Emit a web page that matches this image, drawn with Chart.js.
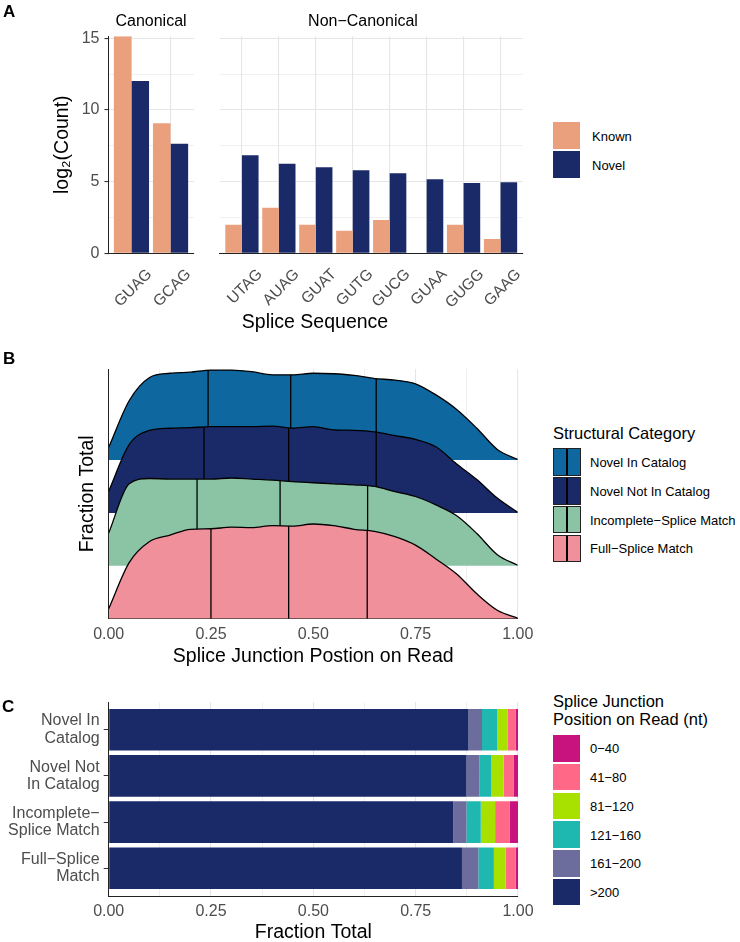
<!DOCTYPE html>
<html lang="en">
<head>
<meta charset="UTF-8">
<title>Splice junctions</title>
<script src="https://cdn.jsdelivr.net/npm/chart.js@4.4.0/dist/chart.umd.min.js"></script>
<style>
  body { margin: 0; width: 740px; height: 942px; overflow: hidden; background: #fff; position: relative;
         font-family: "Liberation Sans", Arial, Helvetica, sans-serif; }
  canvas { position: absolute; }
  .t { position: absolute; white-space: nowrap; line-height: 1; color: #000; }
  .c { transform: translate(-50%, -50%); }
  .l { transform: translateY(-50%); }
  .letter { font-weight: bold; font-size: 17px; }
  .strip { font-size: 16px; }
  .axtitle { font-size: 19.5px; }
  .legtitle { font-size: 16.5px; }
  .leglab { font-size: 13px; }
  .box { position: absolute; box-sizing: border-box; }
</style>
</head>
<body>
<canvas id="aLeft" width="200" height="312" style="left:0;top:0"></canvas>
<canvas id="aRight" width="330" height="312" style="left:200px;top:0"></canvas>
<canvas id="panelB" width="540" height="330" style="left:0;top:340px"></canvas>
<canvas id="panelC" width="540" height="270" style="left:0;top:680px"></canvas>

<div class="t letter" style="left:3px;top:3px">A</div>
<div class="t letter" style="left:3px;top:350px">B</div>
<div class="t letter" style="left:2px;top:698px">C</div>
<div class="t strip c" style="left:151px;top:21px">Canonical</div>
<div class="t strip c" style="left:363px;top:21px">Non−Canonical</div>
<div class="t axtitle c" style="left:315px;top:322px">Splice Sequence</div>
<div id="legends"></div>

<script>
// panel A: log2 counts of splice sequences
const canonicalSeqs = ['GUAG', 'GCAG'];
const canonicalKnown = [15.15, 9.07];
const canonicalNovel = [12.02, 7.65];
const nonCanonicalSeqs = ['UTAG', 'AUAG', 'GUAT', 'GUTG', 'GUCG', 'GUAA', 'GUGG', 'GAAG'];
const nonCanonicalKnown = [2.0, 3.17, 2.0, 1.58, 2.32, 0, 2.0, 1.0];
const nonCanonicalNovel = [6.84, 6.25, 6.0, 5.79, 5.58, 5.16, 4.9, 4.95];

// panel B: ridge heights (in row spacings) along the read
const junctionPos = [0, 0.05, 0.1, 0.15, 0.2, 0.25, 0.3, 0.35, 0.4, 0.45, 0.5,
                     0.55, 0.6, 0.65, 0.7, 0.75, 0.8, 0.85, 0.9, 0.95, 1];
const densityNIC = [0.24, 1.12, 1.56, 1.64, 1.66, 1.70, 1.70, 1.67, 1.61, 1.61, 1.64,
                    1.63, 1.60, 1.54, 1.51, 1.44, 1.23, 0.96, 0.60, 0.20, 0.01];
const densityNNC = [0.41, 1.29, 1.56, 1.60, 1.61, 1.63, 1.63, 1.63, 1.64, 1.60, 1.63,
                    1.57, 1.56, 1.53, 1.46, 1.39, 1.25, 0.93, 0.63, 0.28, 0.01];
const densityISM = [0.62, 1.55, 1.65, 1.64, 1.64, 1.64, 1.66, 1.64, 1.62, 1.59, 1.57,
                    1.55, 1.53, 1.50, 1.40, 1.31, 1.15, 0.95, 0.61, 0.21, 0.01];
const densityFSM = [0.19, 1.06, 1.46, 1.58, 1.69, 1.70, 1.73, 1.72, 1.76, 1.75, 1.79,
                    1.76, 1.69, 1.65, 1.55, 1.39, 1.13, 0.85, 0.47, 0.16, 0.01];
const quartilesNIC = [0.243, 0.445, 0.654];
const quartilesNNC = [0.233, 0.440, 0.654];
const quartilesISM = [0.216, 0.419, 0.633];
const quartilesFSM = [0.250, 0.440, 0.632];

// panel C: fraction of junctions per distance bin
const structCats = [['Novel In', 'Catalog'], ['Novel Not', 'In Catalog'],
                    ['Incomplete−', 'Splice Match'], ['Full−Splice', 'Match']];
const lenBins = ['>200', '161−200', '121−160', '81−120', '41−80', '0−40'];
const fracOver200 = [0.879, 0.874, 0.842, 0.863];
const frac161to200 = [0.033, 0.032, 0.032, 0.040];
const frac121to160 = [0.037, 0.028, 0.035, 0.038];
const frac81to120 = [0.026, 0.031, 0.035, 0.029];
const frac41to80 = [0.019, 0.024, 0.036, 0.024];
const frac0to40 = [0.006, 0.011, 0.020, 0.007];

// colours
const knownColor = '#EAA07D';
const novelColor = '#1A2A68';
const structNames = ['Novel In Catalog', 'Novel Not In Catalog', 'Incomplete−Splice Match', 'Full−Splice Match'];
const structColors = ['#0F67A0', '#1A2A68', '#8AC4A5', '#F0909A'];
const binColors = ['#1A2A68', '#6C6D9D', '#1EB8B0', '#A8E000', '#FF6987', '#C8137F'];
const gridCol = '#E6E6E6';
const axisCol = '#222';

Chart.defaults.font.family = '"Liberation Sans", Arial, Helvetica, sans-serif';
Chart.defaults.color = '#4D4D4D';
Chart.defaults.animation = false;
Chart.defaults.events = [];
Chart.defaults.plugins.legend.display = false;
Chart.defaults.plugins.tooltip.enabled = false;

// ggplot-like discrete expansion (0.6 of a category on each side)
function ggExpand(scale) {
  scale._startValue = scale.min - 0.6;
  scale._valueRange = scale.max - scale.min + 1.2;
}
const isMajor = (v, step) => Math.abs(v / step - Math.round(v / step)) < 1e-6;

function splicePanel(id, seqs, known, novel, showY, pad) {
  return new Chart(document.getElementById(id), {
    type: 'bar',
    data: {
      labels: seqs,
      datasets: [
        { label: 'Known', data: known, backgroundColor: knownColor },
        { label: 'Novel', data: novel, backgroundColor: novelColor }
      ]
    },
    options: {
      responsive: false,
      layout: { padding: pad },
      datasets: { bar: { categoryPercentage: 0.9, barPercentage: 1, borderWidth: 0 } },
      scales: {
        x: {
          offset: true,
          afterBuildTicks: ggExpand,
          afterFit: s => { s.height = 58.7; },
          grid: { offset: false, color: gridCol, lineWidth: 1.1, drawTicks: false },
          border: { color: axisCol, width: 1 },
          ticks: { autoSkip: false, minRotation: 45, maxRotation: 45, padding: 12, labelOffset: 18,
                   font: { size: 15.5 } }
        },
        y: {
          min: 0, max: 15.15,
          afterFit: s => { s.width = showY ? 108 : 0; },
          grid: {
            color: gridCol,
            lineWidth: c => isMajor(c.tick.value, 5) ? 1.1 : 0.6,
            drawTicks: showY, tickLength: 3.5,
            tickColor: c => isMajor(c.tick.value, 5) ? '#333' : 'rgba(0,0,0,0)'
          },
          border: { display: showY, color: axisCol, width: 1 },
          ticks: { display: showY, stepSize: 2.5, includeBounds: false, padding: 5, font: { size: 16 },
                   callback: v => isMajor(v, 5) ? v : '' },
          title: { display: showY, text: 'log₂(Count)', color: '#000', font: { size: 19.5 },
                   padding: { top: 50.8, bottom: 0 } }
        }
      }
    }
  });
}

splicePanel('aLeft', canonicalSeqs, canonicalKnown, canonicalNovel, true, { top: 36.15, right: 6 });
splicePanel('aRight', nonCanonicalSeqs, nonCanonicalKnown, nonCanonicalNovel, false, { top: 36.15, right: 7.3, left: 4 });

// ridges: index 0 is drawn last (front)
const ridgeDens = [densityFSM, densityISM, densityNNC, densityNIC];
const ridgeQuartiles = [quartilesFSM, quartilesISM, quartilesNNC, quartilesNIC];
const ridgeColors = [structColors[3], structColors[2], structColors[1], structColors[0]];
const ridgeNames = [structNames[3], structNames[2], structNames[1], structNames[0]];
const ridgeBase = [0, 1, 2, 3];

const quartileLines = {
  id: 'quartileLines',
  afterDatasetDraw(chart, args) {
    const { ctx, chartArea, scales: { x, y } } = chart;
    const i = args.index;
    const line = args.meta.dataset;
    const yBase = y.getPixelForValue(ridgeBase[i]);
    ctx.save();
    ctx.beginPath();
    line.path(ctx);
    ctx.lineTo(x.getPixelForValue(1), yBase);
    ctx.lineTo(x.getPixelForValue(0), yBase);
    ctx.closePath();
    ctx.clip();
    ctx.strokeStyle = '#000';
    ctx.lineWidth = 1.3;
    ctx.beginPath();
    ridgeQuartiles[i].forEach(q => {
      const px = x.getPixelForValue(q);
      ctx.moveTo(px, yBase);
      ctx.lineTo(px, chartArea.top);
    });
    ctx.stroke();
    ctx.restore();
  }
};

new Chart(document.getElementById('panelB'), {
  type: 'line',
  data: {
    datasets: ridgeDens.map((dens, i) => ({
      label: ridgeNames[i],
      data: junctionPos.map((p, j) => ({ x: p, y: ridgeBase[i] + dens[j] })),
      fill: { value: ridgeBase[i] },
      backgroundColor: ridgeColors[i],
      borderColor: '#000',
      borderWidth: 1.3,
      pointRadius: 0,
      cubicInterpolationMode: 'monotone'
    }))
  },
  options: {
    responsive: false,
    layout: { padding: { top: 29, right: 17.7 } },
    scales: {
      x: {
        type: 'linear', min: 0, max: 1,
        afterFit: s => { s.height = 51.3; },
        grid: { color: gridCol, lineWidth: c => isMajor(c.tick.value, 0.25) ? 1.1 : 0.6, drawTicks: false },
        border: { color: axisCol, width: 1 },
        ticks: { stepSize: 0.125, padding: 6.7, font: { size: 16 },
                 callback: v => isMajor(v, 0.25) ? v.toFixed(2) : '' },
        title: { display: true, text: 'Splice Junction Postion on Read', color: '#000', font: { size: 19.5 },
                 padding: { top: 0, bottom: 1.3 } }
      },
      y: {
        min: 0, max: 4.72,
        afterFit: s => { s.width = 108.7; },
        grid: { display: false },
        border: { color: axisCol, width: 1 },
        ticks: { display: false },
        title: { display: true, text: 'Fraction Total', color: '#000', font: { size: 19.5 },
                 padding: { top: 76.3, bottom: 0 } }
      }
    }
  },
  plugins: [quartileLines]
});

const binFractions = [fracOver200, frac161to200, frac121to160, frac81to120, frac41to80, frac0to40];

new Chart(document.getElementById('panelC'), {
  type: 'bar',
  data: {
    labels: structCats,
    datasets: binFractions.map((vals, i) => ({
      label: lenBins[i], data: vals, backgroundColor: binColors[i]
    }))
  },
  options: {
    indexAxis: 'y',
    responsive: false,
    layout: { padding: { top: 22, right: 17.7 } },
    datasets: { bar: { categoryPercentage: 0.9, barPercentage: 1, borderWidth: 0 } },
    scales: {
      x: {
        stacked: true, min: 0, max: 1,
        afterFit: s => { s.height = 54; },
        grid: { color: gridCol, lineWidth: c => isMajor(c.tick.value, 0.25) ? 1.1 : 0.6, drawTicks: false },
        border: { color: axisCol, width: 1 },
        ticks: { stepSize: 0.125, padding: 6.4, font: { size: 16 },
                 callback: v => isMajor(v, 0.25) ? v.toFixed(2) : '' },
        title: { display: true, text: 'Fraction Total', color: '#000', font: { size: 19.5 },
                 padding: { top: 0, bottom: 5.3 } }
      },
      y: {
        stacked: true, offset: true,
        afterBuildTicks: ggExpand,
        afterFit: s => { s.width = 108.7; },
        grid: { offset: false, color: gridCol, drawTicks: true, tickLength: 5, tickColor: '#333' },
        border: { color: axisCol, width: 1 },
        ticks: { padding: 4, font: { size: 16, lineHeight: 1.1 } }
      }
    }
  }
});

// legends (html)
const legends = document.getElementById('legends');
function addDiv(cls, style, text) {
  const d = document.createElement('div');
  d.className = cls;
  d.style.cssText = style;
  if (text) d.textContent = text;
  legends.appendChild(d);
  return d;
}

// A
[['Known', knownColor], ['Novel', novelColor]].forEach(([name, col], i) => {
  const top = 122 + i * 29;
  addDiv('box', `left:553px;top:${top}px;width:27px;height:27px;background:${col}`);
  addDiv('t leglab l', `left:592px;top:${top + 13.5}px`, name);
});

// B
addDiv('t legtitle l', 'left:553px;top:433px', 'Structural Category');
structNames.forEach((name, i) => {
  const top = 448.3 + i * 28.8;
  const b = addDiv('box', `left:553px;top:${top}px;width:27.5px;height:27.5px;background:${structColors[i]};border:1.2px solid #222`);
  const bar = document.createElement('div');
  bar.style.cssText = 'position:absolute;left:11.5px;top:0;width:2px;height:100%;background:#000';
  b.appendChild(bar);
  addDiv('t leglab l', `left:590px;top:${top + 13.75}px`, name);
});

// C
addDiv('t legtitle l', 'left:553px;top:700.5px', 'Splice Junction');
addDiv('t legtitle l', 'left:553px;top:719px', 'Position on Read (nt)');
lenBins.slice().reverse().forEach((name, i) => {
  const top = 735 + i * 28.75;
  const col = binColors[lenBins.length - 1 - i];
  addDiv('box', `left:553.3px;top:${top}px;width:26.7px;height:26.5px;background:${col}`);
  addDiv('t leglab l', `left:590px;top:${top + 13.25}px`, name);
});
</script>
</body>
</html>
